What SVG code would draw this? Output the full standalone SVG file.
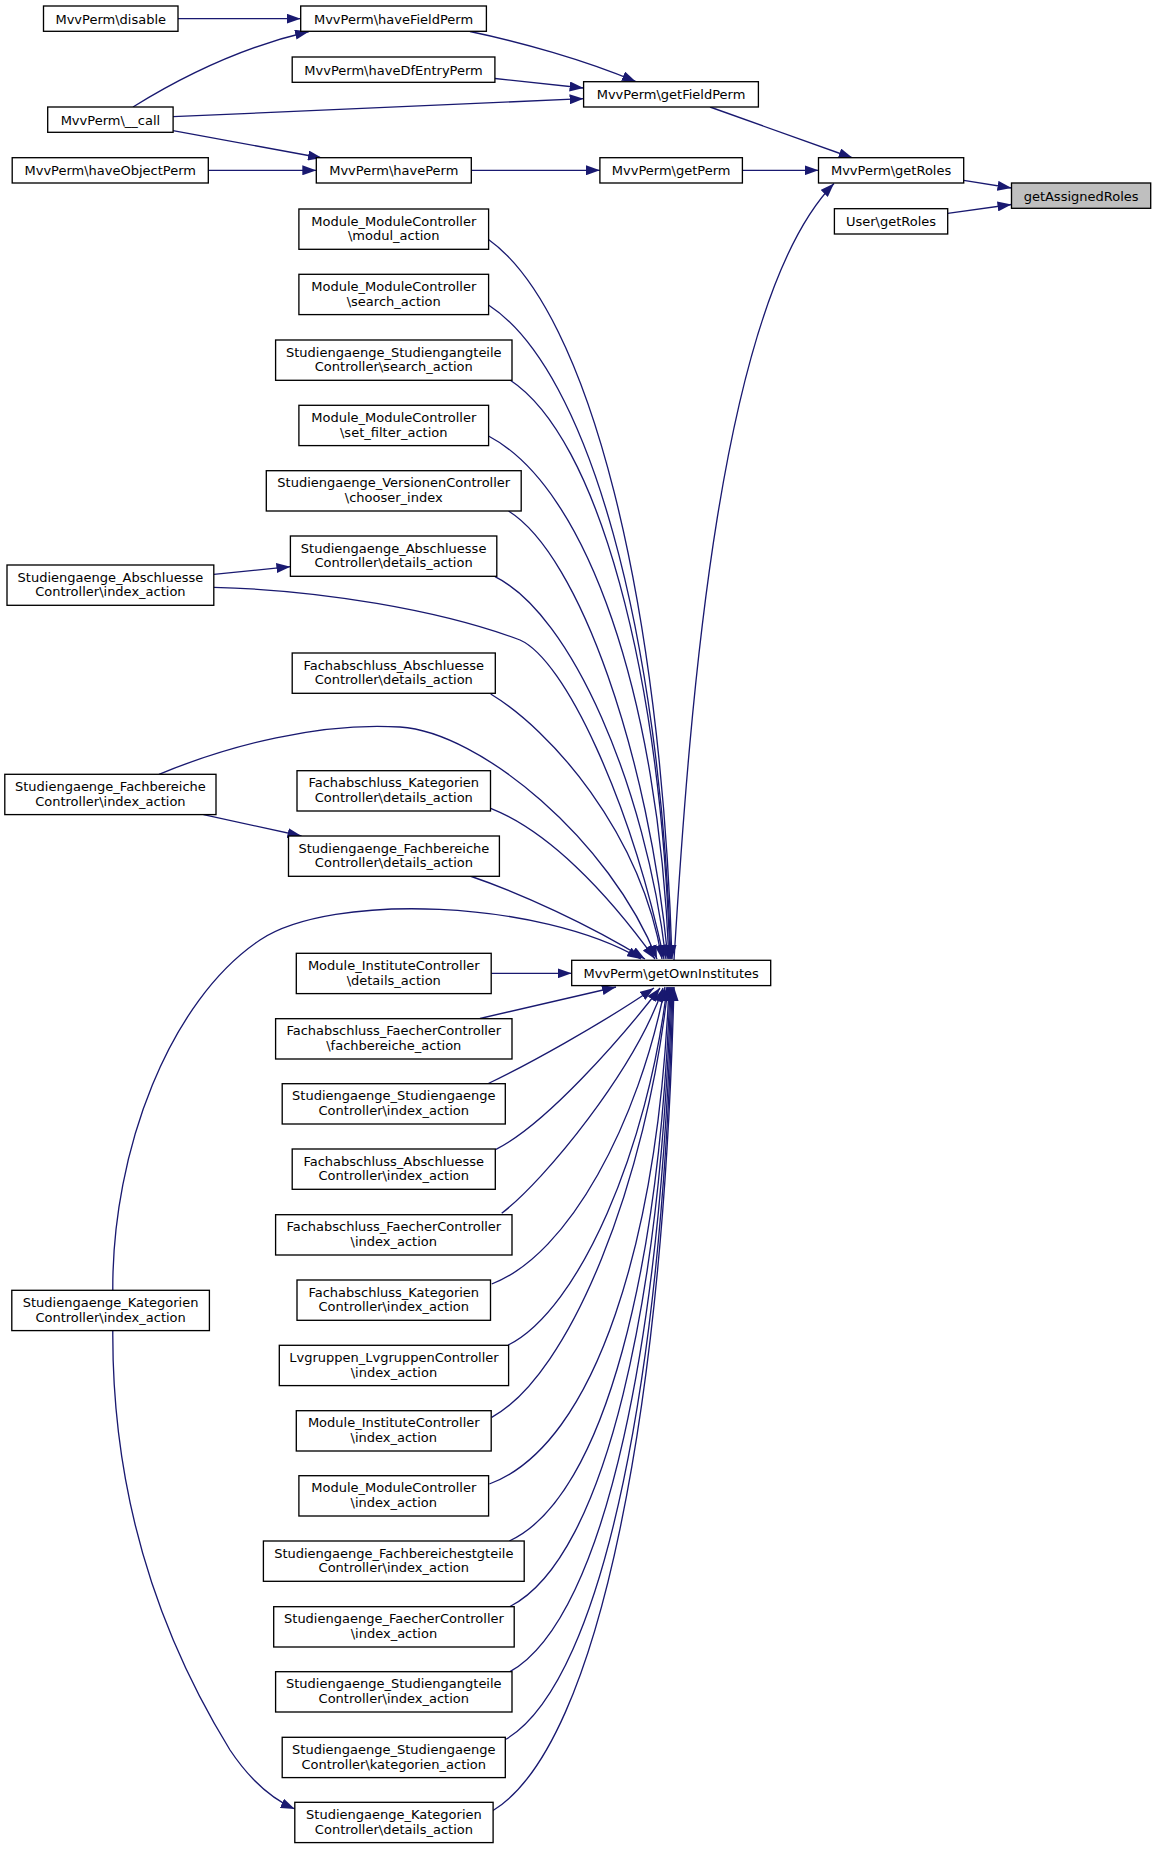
<svg xmlns="http://www.w3.org/2000/svg" width="1156" height="1849" viewBox="0 0 1156 1849">
<style>
.node rect{fill:#ffffff;stroke:#000000;stroke-width:1.33}
.node.root rect{fill:#bfbfbf}
.node text{font-family:"DejaVu Sans","Liberation Sans",sans-serif;font-size:13px;text-anchor:middle;fill:#000000}
.edge{fill:none;stroke:#191970;stroke-width:1.33;marker-end:url(#arr)}
</style>
<defs>
<marker id="arr" markerUnits="userSpaceOnUse" viewBox="0 0 14 10" refX="14" refY="5" markerWidth="14" markerHeight="10" orient="auto">
<path d="M0,0 L14,5 L0,10 z" fill="#191970"/>
</marker>
</defs>
<rect x="0" y="0" width="1156" height="1849" fill="#ffffff"/>
<g id="edges">
<path class="edge" d="M178,18.7 L300.7,18.7"/>
<path class="edge" d="M133,107 C170,84 230,50 309,31.5"/>
<path class="edge" d="M470,31.5 C520,42 585,60 636,81.7"/>
<path class="edge" d="M495,78.5 L583.6,88"/>
<path class="edge" d="M173,116.7 L583.6,98.7"/>
<path class="edge" d="M173,130.7 L322,158"/>
<path class="edge" d="M208.3,170.3 L316.3,170.3"/>
<path class="edge" d="M710,107 L852.7,158"/>
<path class="edge" d="M471.3,170.3 L599.9,170.3"/>
<path class="edge" d="M742.4,170.3 L818.5,170.3"/>
<path class="edge" d="M963.7,180.3 L1011.5,188"/>
<path class="edge" d="M947.7,213.3 L1011.5,204.5"/>
<path class="edge" d="M674,960 C690,700 720,300 834,183.5"/>
<path class="edge" d="M213.8,574.3 L290.4,566.7"/>
<path class="edge" d="M203.5,814.7 L301.5,836"/>
<path class="edge" d="M112.8,1330.7 C112,1480 150,1620 230,1750 C250,1780 270,1798 294.8,1809"/>
<path class="edge" d="M112.8,1290.3 C112,1150 170,1000 260,940 C332,892 540,900 641,959"/>
<path class="edge" d="M159,774.3 C230,745 320,722 400,727 C480,732 610,840 657,959"/>
<path class="edge" d="M213.8,587.3 C320,590 440,610 520,640 C565,660 630,800 664,959"/>
<path class="edge" d="M488.5,239.5 C589.4,311.5 661,599.3 672,959"/>
<path class="edge" d="M488.5,305 C588.9,370.4 660,632 671,959"/>
<path class="edge" d="M510,380 C598,437.9 660.4,669.5 670,959"/>
<path class="edge" d="M488.5,436 C587.8,488.3 658.2,697.5 669,959"/>
<path class="edge" d="M508.5,511 C580.3,555.8 648.9,757.4 668,959"/>
<path class="edge" d="M495,576.7 C572,614.9 645.5,787 666,959"/>
<path class="edge" d="M490.7,694 C550,730 640,830 662,959"/>
<path class="edge" d="M490.7,808.3 C548,831 606,891 655,959"/>
<path class="edge" d="M470,876 C520,893 590,925 645,959"/>
<path class="edge" d="M491.2,973.3 L571.7,973.3"/>
<path class="edge" d="M480,1018.5 L616,987"/>
<path class="edge" d="M488.3,1083.5 C525,1066 600,1025 654,988"/>
<path class="edge" d="M496,1149.3 C545,1125 620,1040 660,988"/>
<path class="edge" d="M501.7,1213.3 C545,1180 635,1070 663,988"/>
<path class="edge" d="M491.7,1284 C569.7,1254.3 639,1120.7 665,987"/>
<path class="edge" d="M508.3,1345 C579.7,1309.2 648,1148.1 667,987"/>
<path class="edge" d="M491.7,1417.3 C571,1374 646.8,1180.6 668,987"/>
<path class="edge" d="M489.3,1484 C597.1,1444.2 658.2,1235.5 669,987"/>
<path class="edge" d="M509.3,1541 C605.7,1496.7 660.4,1264 670,987"/>
<path class="edge" d="M510,1606.5 C606.6,1557 661.3,1296.8 671,987"/>
<path class="edge" d="M510,1671.7 C607.2,1616.9 662.3,1329.4 672,987"/>
<path class="edge" d="M506,1739.3 C606.2,1679.1 663,1363.2 673,987"/>
<path class="edge" d="M492.7,1810.7 C601.5,1744.8 663.1,1398.9 674,987"/>
</g>
<g id="n_getAssignedRoles" class="node root"><rect x="1011.5" y="183" width="139.2" height="25.3"/><text x="1081.1" y="200.5">getAssignedRoles</text></g>
<g id="n_MvvPerm_getRoles" class="node"><rect x="818.5" y="157.7" width="145.2" height="25.3"/><text x="891.1" y="175.2">MvvPerm\getRoles</text></g>
<g id="n_User_getRoles" class="node"><rect x="834.4" y="208.7" width="113.3" height="25.3"/><text x="891.05" y="226.2">User\getRoles</text></g>
<g id="n_getFieldPerm" class="node"><rect x="583.6" y="81.7" width="174.8" height="25.3"/><text x="671" y="99.2">MvvPerm\getFieldPerm</text></g>
<g id="n_getPerm" class="node"><rect x="599.9" y="157.7" width="142.5" height="25.3"/><text x="671.15" y="175.2">MvvPerm\getPerm</text></g>
<g id="n_getOwnInstitutes" class="node"><rect x="571.7" y="960.3" width="199" height="25.3"/><text x="671.2" y="977.8">MvvPerm\getOwnInstitutes</text></g>
<g id="n_haveFieldPerm" class="node"><rect x="300.7" y="6" width="185.7" height="25.3"/><text x="393.55" y="23.5">MvvPerm\haveFieldPerm</text></g>
<g id="n_haveDfEntryPerm" class="node"><rect x="292.2" y="57" width="202.7" height="25.3"/><text x="393.55" y="74.5">MvvPerm\haveDfEntryPerm</text></g>
<g id="n_havePerm" class="node"><rect x="316.3" y="157.7" width="155" height="25.3"/><text x="393.8" y="175.2">MvvPerm\havePerm</text></g>
<g id="n_disable" class="node"><rect x="43.5" y="6" width="134.5" height="25.3"/><text x="110.75" y="23.5">MvvPerm\disable</text></g>
<g id="n_call" class="node"><rect x="47.7" y="107" width="125.4" height="25.3"/><text x="110.4" y="124.5">MvvPerm\__call</text></g>
<g id="n_haveObjectPerm" class="node"><rect x="12.2" y="157.7" width="196.1" height="25.3"/><text x="110.25" y="175.2">MvvPerm\haveObjectPerm</text></g>
<g id="n_mm_modul" class="node"><rect x="298.9" y="209" width="189.7" height="40.3"/><text x="393.75" y="225.6">Module_ModuleController</text><text x="393.75" y="240.2">\modul_action</text></g>
<g id="n_mm_search" class="node"><rect x="298.9" y="274.3" width="189.7" height="40.3"/><text x="393.75" y="290.9">Module_ModuleController</text><text x="393.75" y="305.5">\search_action</text></g>
<g id="n_sst_search" class="node"><rect x="275.6" y="340" width="236.4" height="40.3"/><text x="393.8" y="356.6">Studiengaenge_Studiengangteile</text><text x="393.8" y="371.2">Controller\search_action</text></g>
<g id="n_mm_setfilter" class="node"><rect x="298.9" y="405.3" width="189.7" height="40.3"/><text x="393.75" y="421.9">Module_ModuleController</text><text x="393.75" y="436.5">\set_filter_action</text></g>
<g id="n_sv_chooser" class="node"><rect x="266.3" y="470.7" width="254.9" height="40.3"/><text x="393.75" y="487.3">Studiengaenge_VersionenController</text><text x="393.75" y="501.9">\chooser_index</text></g>
<g id="n_sa_details" class="node"><rect x="290.4" y="536" width="206.4" height="40.3"/><text x="393.6" y="552.6">Studiengaenge_Abschluesse</text><text x="393.6" y="567.2">Controller\details_action</text></g>
<g id="n_sa_index" class="node"><rect x="7" y="565" width="206.8" height="40.3"/><text x="110.4" y="581.6">Studiengaenge_Abschluesse</text><text x="110.4" y="596.2">Controller\index_action</text></g>
<g id="n_fa_details" class="node"><rect x="292.2" y="653" width="203.1" height="40.3"/><text x="393.75" y="669.6">Fachabschluss_Abschluesse</text><text x="393.75" y="684.2">Controller\details_action</text></g>
<g id="n_sf_index" class="node"><rect x="4.8" y="774.3" width="211.2" height="40.3"/><text x="110.4" y="790.9">Studiengaenge_Fachbereiche</text><text x="110.4" y="805.5">Controller\index_action</text></g>
<g id="n_fk_details" class="node"><rect x="297" y="770.7" width="193.5" height="40.3"/><text x="393.75" y="787.3">Fachabschluss_Kategorien</text><text x="393.75" y="801.9">Controller\details_action</text></g>
<g id="n_sf_details" class="node"><rect x="288.5" y="836" width="210.9" height="40.3"/><text x="393.95" y="852.6">Studiengaenge_Fachbereiche</text><text x="393.95" y="867.2">Controller\details_action</text></g>
<g id="n_mi_details" class="node"><rect x="296.3" y="953.3" width="194.9" height="40.3"/><text x="393.75" y="969.9">Module_InstituteController</text><text x="393.75" y="984.5">\details_action</text></g>
<g id="n_ff_fachbereiche" class="node"><rect x="275.6" y="1018.7" width="236.4" height="40.3"/><text x="393.8" y="1035.3">Fachabschluss_FaecherController</text><text x="393.8" y="1049.9">\fachbereiche_action</text></g>
<g id="n_ss_index" class="node"><rect x="282.2" y="1083.7" width="223.1" height="40.3"/><text x="393.75" y="1100.3">Studiengaenge_Studiengaenge</text><text x="393.75" y="1114.9">Controller\index_action</text></g>
<g id="n_fa_index" class="node"><rect x="292.2" y="1149" width="203.1" height="40.3"/><text x="393.75" y="1165.6">Fachabschluss_Abschluesse</text><text x="393.75" y="1180.2">Controller\index_action</text></g>
<g id="n_ff_index" class="node"><rect x="275.6" y="1214.7" width="236.4" height="40.3"/><text x="393.8" y="1231.3">Fachabschluss_FaecherController</text><text x="393.8" y="1245.9">\index_action</text></g>
<g id="n_fk_index" class="node"><rect x="297" y="1280" width="193.5" height="40.3"/><text x="393.75" y="1296.6">Fachabschluss_Kategorien</text><text x="393.75" y="1311.2">Controller\index_action</text></g>
<g id="n_sk_index" class="node"><rect x="11.8" y="1290.3" width="197.6" height="40.3"/><text x="110.6" y="1306.9">Studiengaenge_Kategorien</text><text x="110.6" y="1321.5">Controller\index_action</text></g>
<g id="n_lv_index" class="node"><rect x="279.3" y="1345.3" width="229.3" height="40.3"/><text x="393.95" y="1361.9">Lvgruppen_LvgruppenController</text><text x="393.95" y="1376.5">\index_action</text></g>
<g id="n_mi_index" class="node"><rect x="296.3" y="1410.7" width="194.9" height="40.3"/><text x="393.75" y="1427.3">Module_InstituteController</text><text x="393.75" y="1441.9">\index_action</text></g>
<g id="n_mm_index" class="node"><rect x="298.9" y="1475.7" width="189.7" height="40.3"/><text x="393.75" y="1492.3">Module_ModuleController</text><text x="393.75" y="1506.9">\index_action</text></g>
<g id="n_sfs_index" class="node"><rect x="263.4" y="1541" width="260.8" height="40.3"/><text x="393.8" y="1557.6">Studiengaenge_Fachbereichestgteile</text><text x="393.8" y="1572.2">Controller\index_action</text></g>
<g id="n_sfa_index" class="node"><rect x="273.7" y="1606.7" width="240.5" height="40.3"/><text x="393.95" y="1623.3">Studiengaenge_FaecherController</text><text x="393.95" y="1637.9">\index_action</text></g>
<g id="n_sst_index" class="node"><rect x="275.6" y="1671.7" width="236.4" height="40.3"/><text x="393.8" y="1688.3">Studiengaenge_Studiengangteile</text><text x="393.8" y="1702.9">Controller\index_action</text></g>
<g id="n_ss_kategorien" class="node"><rect x="282.2" y="1737.3" width="223.1" height="40.3"/><text x="393.75" y="1753.9">Studiengaenge_Studiengaenge</text><text x="393.75" y="1768.5">Controller\kategorien_action</text></g>
<g id="n_sk_details" class="node"><rect x="294.8" y="1802.3" width="198.3" height="40.3"/><text x="393.95" y="1818.9">Studiengaenge_Kategorien</text><text x="393.95" y="1833.5">Controller\details_action</text></g>
</svg>
